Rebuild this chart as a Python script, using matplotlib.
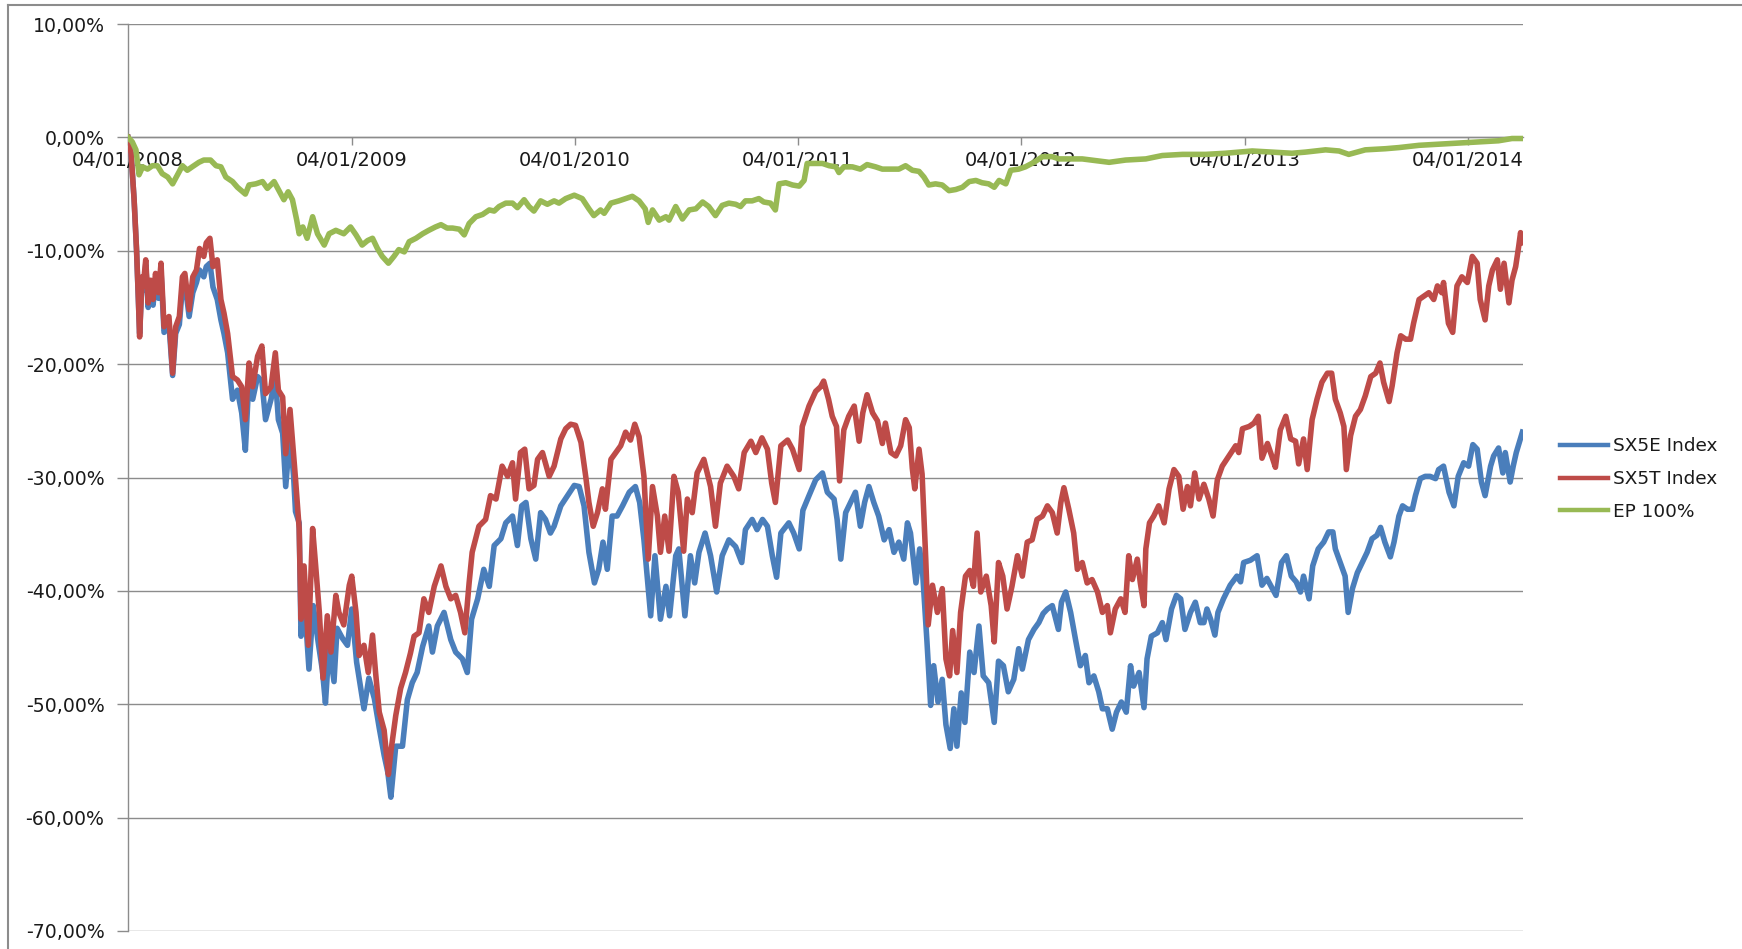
import pandas as pd
import matplotlib
matplotlib.use("Agg")
import matplotlib.pyplot as plt
import matplotlib.dates as mdates
from matplotlib.lines import Line2D
from matplotlib.ticker import FuncFormatter, MultipleLocator


# Performance since 04/01/2008, in %. Time is given as days after the start date.
START = pd.Timestamp("2008-01-04")
END_DAY = 2282

sx5e_days = [
    0, 5, 10, 14, 17, 19, 23, 25, 29, 33, 37, 41, 45, 50, 54, 59, 67, 73, 78, 84,
    89, 93, 100, 106, 112, 117, 124, 128, 134, 139, 146, 152, 157, 163, 171, 179, 186, 192, 198, 204,
    212, 219, 225, 234, 241, 246, 253, 258, 265, 271, 274, 280, 283, 288, 296, 303, 311, 318, 323, 329,
    337, 342, 351, 359, 366, 374, 386, 394, 403, 411, 419, 425, 430, 438, 449, 457, 465, 473, 482, 492,
    498, 506, 517, 528, 536, 547, 555, 562, 572, 582, 591, 599, 610, 618, 629, 637, 644, 651, 659, 667,
    675, 683, 691, 697, 708, 719, 730, 738, 746, 754, 763, 770, 777, 784, 792, 800, 809, 820, 830, 837,
    844, 855, 862, 871, 880, 886, 896, 901, 911, 920, 927, 934, 944, 953, 963, 972, 983, 994, 1004, 1010,
    1021, 1029, 1038, 1046, 1054, 1061, 1068, 1081, 1089, 1098, 1104, 1114, 1125, 1136, 1144, 1155, 1160, 1166, 1174, 1182,
    1190, 1198, 1205, 1212, 1220, 1228, 1237, 1245, 1253, 1261, 1269, 1275, 1280, 1286, 1289, 1295, 1300, 1307, 1313, 1318,
    1325, 1332, 1338, 1345, 1351, 1356, 1363, 1369, 1377, 1384, 1392, 1399, 1408, 1417, 1424, 1432, 1440, 1449, 1457, 1463,
    1473, 1482, 1490, 1497, 1504, 1512, 1522, 1527, 1534, 1542, 1550, 1558, 1566, 1572, 1580, 1588, 1594, 1602, 1610, 1617,
    1625, 1633, 1640, 1645, 1654, 1662, 1667, 1674, 1684, 1692, 1698, 1707, 1715, 1722, 1729, 1738, 1746, 1754, 1760, 1765,
    1771, 1778, 1783, 1792, 1803, 1814, 1820, 1825, 1836, 1847, 1855, 1863, 1872, 1878, 1887, 1895, 1903, 1911, 1918, 1923,
    1932, 1938, 1947, 1956, 1964, 1971, 1975, 1983, 1991, 1996, 2003, 2011, 2019, 2027, 2035, 2043, 2049, 2056, 2065, 2071,
    2079, 2085, 2093, 2101, 2106, 2114, 2122, 2130, 2139, 2144, 2152, 2161, 2169, 2176, 2185, 2193, 2200, 2207, 2214, 2220,
    2229, 2234, 2242, 2249, 2253, 2261, 2266, 2271, 2281,
]
sx5e_pct = [
    0, -1.4, -5.5, -10.0, -14.5, -17.3, -12.5, -13.5, -11.2, -15.0, -13.0, -14.8, -12.5, -14.2, -11.8, -17.2, -16.5, -21.0, -17.3, -16.5,
    -13.2, -12.8, -15.8, -13.7, -12.8, -11.7, -12.3, -11.4, -11.1, -13.2, -14.3, -16.1, -17.3, -19.0, -23.1, -22.3, -24.3, -27.6, -21.1, -23.1,
    -21.1, -21.5, -24.9, -23.1, -21.1, -24.9, -26.1, -30.8, -26.1, -30.0, -33.0, -34.0, -44.0, -40.4, -46.9, -41.3, -44.5, -47.0, -49.9, -44.8,
    -48.0, -43.3, -44.2, -44.8, -41.6, -46.3, -50.4, -47.7, -49.5, -52.1, -54.5, -56.0, -58.2, -53.7, -53.7, -49.6, -48.1, -47.2, -44.9, -43.1,
    -45.4, -43.1, -41.9, -44.3, -45.4, -46.0, -47.2, -42.5, -40.7, -38.1, -39.6, -36.0, -35.4, -34.0, -33.4, -36.0, -32.5, -32.2, -35.4, -37.2,
    -33.1, -33.7, -34.9, -34.3, -32.5, -31.6, -30.7, -30.8, -32.5, -36.6, -39.3, -38.1, -35.7, -38.1, -33.4, -33.4, -32.5, -31.3, -30.8, -32.2,
    -35.5, -42.2, -36.9, -42.5, -39.6, -42.2, -36.9, -36.3, -42.2, -36.9, -39.3, -36.6, -34.9, -36.9, -40.1, -36.9, -35.5, -36.1, -37.5, -34.6,
    -33.7, -34.6, -33.7, -34.3, -36.9, -38.8, -34.9, -34.0, -34.9, -36.3, -32.9, -31.6, -30.2, -29.6, -31.3, -31.9, -33.7, -37.2, -33.1, -32.2,
    -31.3, -34.3, -32.2, -30.8, -32.2, -33.4, -35.5, -34.6, -36.6, -35.7, -37.2, -34.0, -34.9, -37.8, -39.3, -36.3, -38.5, -44.5, -50.1, -46.6,
    -49.8, -47.8, -51.8, -53.9, -50.4, -53.7, -49.0, -51.6, -45.4, -47.2, -43.1, -47.5, -48.1, -51.6, -46.2, -46.6, -48.9, -47.8, -45.1, -46.9,
    -44.3, -43.4, -42.8, -42.0, -41.6, -41.3, -43.4, -41.0, -40.1, -41.9, -44.3, -46.6, -45.7, -48.1, -47.5, -48.9, -50.4, -50.4, -52.2, -50.7,
    -49.8, -50.7, -46.6, -48.4, -47.2, -50.3, -46.0, -44.0, -43.7, -42.8, -44.3, -41.6, -40.4, -40.7, -43.4, -41.9, -41.0, -42.8, -42.8, -41.6,
    -42.5, -43.9, -41.9, -40.7, -39.5, -38.7, -39.2, -37.5, -37.3, -36.9, -39.5, -38.9, -39.8, -40.4, -37.5, -36.9, -38.7, -39.2, -40.1, -38.7,
    -40.7, -37.8, -36.3, -35.7, -34.8, -34.8, -36.3, -37.5, -38.7, -41.9, -39.8, -38.4, -37.5, -36.6, -35.4, -35.1, -34.4, -35.7, -37.0, -35.7,
    -33.4, -32.5, -32.8, -32.8, -31.6, -30.1, -29.9, -29.9, -30.1, -29.3, -29.0, -31.3, -32.5, -29.9, -28.7, -29.0, -27.1, -27.5, -30.4, -31.6,
    -29.0, -28.1, -27.4, -29.6, -27.8, -30.4, -29.0, -27.8, -26.0,
]

sx5t_days = [
    0, 5, 10, 14, 17, 19, 23, 25, 29, 33, 37, 41, 45, 50, 54, 59, 67, 73, 78, 84,
    89, 93, 100, 106, 112, 117, 124, 128, 134, 139, 146, 152, 157, 163, 171, 179, 186, 192, 198, 204,
    212, 219, 225, 234, 241, 246, 253, 258, 265, 271, 274, 280, 283, 288, 295, 302, 307, 313, 319, 326,
    332, 340, 345, 353, 362, 366, 373, 378, 386, 393, 400, 405, 411, 419, 426, 430, 438, 446, 454, 462,
    468, 476, 484, 492, 501, 512, 520, 528, 536, 544, 551, 558, 563, 574, 585, 593, 602, 612, 621, 629,
    634, 642, 649, 656, 664, 670, 678, 689, 697, 708, 716, 724, 732, 741, 749, 754, 761, 768, 776, 781,
    790, 798, 806, 814, 822, 829, 836, 844, 851, 858, 866, 871, 878, 885, 893, 900, 909, 915, 923, 931,
    942, 953, 961, 969, 980, 991, 999, 1008, 1019, 1027, 1037, 1046, 1053, 1059, 1068, 1079, 1087, 1098, 1103, 1114,
    1125, 1133, 1138, 1146, 1152, 1159, 1164, 1171, 1179, 1188, 1196, 1202, 1209, 1218, 1226, 1234, 1239, 1248, 1256, 1264,
    1272, 1278, 1283, 1287, 1294, 1299, 1305, 1309, 1316, 1324, 1332, 1338, 1344, 1349, 1356, 1362, 1370, 1377, 1383, 1389,
    1395, 1404, 1412, 1417, 1424, 1431, 1438, 1446, 1455, 1463, 1471, 1479, 1487, 1496, 1504, 1512, 1520, 1526, 1531, 1539,
    1547, 1553, 1561, 1569, 1577, 1586, 1594, 1602, 1607, 1615, 1624, 1631, 1637, 1643, 1651, 1656, 1662, 1665, 1671, 1678,
    1686, 1695, 1703, 1711, 1719, 1726, 1733, 1738, 1745, 1752, 1760, 1768, 1775, 1782, 1790, 1801, 1812, 1817, 1823, 1834,
    1842, 1849, 1855, 1864, 1871, 1877, 1885, 1894, 1902, 1910, 1915, 1923, 1929, 1937, 1945, 1953, 1962, 1969, 1975, 1983,
    1989, 1993, 2000, 2008, 2016, 2024, 2033, 2041, 2048, 2054, 2063, 2068, 2076, 2082, 2090, 2098, 2103, 2112, 2120, 2128,
    2136, 2142, 2149, 2152, 2160, 2167, 2174, 2182, 2191, 2199, 2207, 2212, 2220, 2226, 2232, 2240, 2245, 2251, 2259, 2264,
    2270, 2275, 2278, 2281,
]
sx5t_pct = [
    0, -1.4, -5.5, -9.9, -14.3, -17.6, -12.3, -13.1, -10.8, -14.6, -12.6, -14.3, -12.0, -13.7, -11.1, -16.7, -15.8, -20.8, -16.7, -15.8,
    -12.3, -12.0, -15.2, -12.3, -11.7, -9.8, -10.5, -9.3, -8.9, -11.4, -10.8, -14.3, -15.5, -17.3, -21.1, -21.4, -22.0, -24.9, -19.9, -22.0,
    -19.3, -18.4, -22.6, -22.0, -19.0, -22.3, -22.9, -27.9, -24.0, -28.0, -30.1, -34.5, -42.5, -37.8, -44.8, -34.5, -37.8, -41.9, -47.7, -42.2,
    -45.4, -40.4, -41.9, -43.0, -39.5, -38.7, -41.9, -45.7, -44.8, -47.2, -43.9, -47.2, -50.7, -52.3, -56.2, -54.2, -51.0, -48.6, -47.2, -45.5,
    -44.0, -43.7, -40.7, -41.9, -39.6, -37.8, -39.6, -40.7, -40.4, -41.9, -43.7, -39.3, -36.6, -34.3, -33.7, -31.6, -31.9, -29.0, -29.9, -28.7,
    -31.9, -27.8, -27.5, -31.0, -30.7, -28.4, -27.8, -29.9, -29.0, -26.6, -25.7, -25.3, -25.4, -26.9, -30.0, -32.2, -34.3, -33.1, -31.0, -32.8,
    -28.4, -27.8, -27.2, -26.0, -26.7, -25.3, -26.4, -29.9, -37.2, -30.8, -33.4, -36.6, -33.4, -36.5, -29.9, -31.3, -36.5, -31.9, -33.1, -29.6,
    -28.4, -30.8, -34.3, -30.5, -29.0, -29.9, -31.0, -27.8, -26.8, -27.8, -26.5, -27.5, -30.5, -32.2, -27.2, -26.7, -27.5, -29.3, -25.5, -23.7,
    -22.4, -22.0, -21.5, -23.1, -24.6, -25.5, -30.3, -25.8, -24.6, -23.7, -26.8, -24.3, -22.7, -24.3, -25.0, -27.0, -25.2, -27.8, -28.1, -27.2,
    -24.9, -25.6, -29.2, -31.0, -27.5, -29.7, -37.2, -43.0, -39.5, -41.9, -39.8, -46.0, -47.5, -43.5, -47.2, -41.9, -38.7, -38.2, -39.6, -34.9,
    -40.1, -38.7, -41.3, -44.5, -37.5, -38.7, -41.6, -39.6, -36.9, -38.7, -35.7, -35.5, -33.7, -33.4, -32.5, -33.1, -34.9, -32.2, -30.9, -32.8,
    -34.9, -38.1, -37.5, -39.3, -39.0, -40.1, -41.9, -41.3, -43.7, -41.6, -40.7, -41.9, -36.9, -39.0, -37.2, -39.3, -41.3, -36.3, -34.0, -33.4,
    -32.5, -34.0, -31.0, -29.3, -29.9, -32.8, -30.8, -32.5, -29.6, -31.9, -30.6, -31.9, -33.4, -30.2, -29.0, -28.1, -27.2, -27.8, -25.7, -25.5,
    -25.2, -24.6, -28.3, -27.0, -28.1, -29.1, -25.8, -24.6, -26.6, -26.8, -28.8, -26.6, -29.3, -24.9, -23.1, -21.6, -20.8, -20.8, -23.1, -24.3,
    -25.5, -29.3, -26.3, -24.6, -24.0, -22.8, -21.1, -20.8, -19.9, -21.6, -23.3, -21.9, -19.0, -17.5, -17.8, -17.8, -16.4, -14.3, -14.0, -13.7,
    -14.3, -13.1, -13.7, -12.8, -16.4, -17.2, -13.1, -12.3, -12.8, -10.5, -11.1, -14.3, -16.1, -13.1, -11.7, -10.8, -13.4, -11.1, -14.6, -12.6,
    -11.4, -9.6, -8.4, -9.3,
]

ep_days = [
    0, 7, 13, 18, 24, 32, 40, 48, 56, 65, 73, 81, 89, 97, 105, 116, 124, 135, 144, 152,
    160, 171, 179, 192, 198, 209, 220, 228, 239, 247, 255, 262, 269, 276, 280, 286, 293, 302, 310, 321,
    329, 340, 353, 364, 373, 383, 392, 400, 408, 416, 426, 435, 443, 452, 460, 471, 482, 492, 503, 512,
    522, 531, 542, 550, 558, 569, 580, 591, 599, 607, 618, 629, 637, 648, 656, 664, 675, 686, 697, 705,
    716, 730, 743, 754, 762, 773, 779, 790, 803, 814, 825, 836, 846, 851, 858, 869, 880, 885, 896, 907,
    918, 929, 940, 950, 961, 972, 983, 994, 1002, 1010, 1021, 1032, 1040, 1051, 1059, 1065, 1076, 1087, 1098, 1106,
    1111, 1122, 1136, 1147, 1158, 1163, 1171, 1185, 1198, 1209, 1223, 1234, 1250, 1261, 1272, 1283, 1294, 1302, 1310, 1321,
    1332, 1343, 1354, 1365, 1376, 1387, 1397, 1408, 1417, 1425, 1436, 1444, 1457, 1468, 1482, 1496, 1512, 1523, 1561, 1605,
    1632, 1665, 1692, 1725, 1763, 1795, 1839, 1872, 1904, 1926, 1959, 1981, 1997, 2024, 2057, 2079, 2112, 2144, 2177, 2210,
    2242, 2264, 2281,
]
ep_pct = [
    0, -0.4, -1.1, -3.3, -2.6, -2.8, -2.5, -2.5, -3.2, -3.5, -4.1, -3.3, -2.5, -2.9, -2.6, -2.2, -2.0, -2.0, -2.5, -2.6,
    -3.5, -3.9, -4.4, -5.0, -4.2, -4.1, -3.9, -4.5, -3.9, -4.7, -5.5, -4.8, -5.5, -7.3, -8.5, -7.9, -8.9, -7.0, -8.5, -9.5,
    -8.5, -8.2, -8.5, -7.9, -8.6, -9.5, -9.1, -8.9, -9.8, -10.5, -11.1, -10.5, -9.9, -10.1, -9.2, -8.9, -8.5, -8.2, -7.9, -7.7,
    -8.0, -8.0, -8.1, -8.6, -7.6, -7.0, -6.8, -6.4, -6.5, -6.1, -5.8, -5.8, -6.2, -5.5, -6.1, -6.5, -5.6, -5.9, -5.6, -5.8,
    -5.4, -5.1, -5.4, -6.3, -6.9, -6.4, -6.7, -5.8, -5.6, -5.4, -5.2, -5.6, -6.3, -7.5, -6.4, -7.3, -7.0, -7.3, -6.1, -7.2,
    -6.4, -6.3, -5.7, -6.1, -6.9, -6.0, -5.8, -5.9, -6.1, -5.6, -5.6, -5.4, -5.7, -5.8, -6.4, -4.1, -4.0, -4.2, -4.3, -3.8,
    -2.3, -2.3, -2.3, -2.5, -2.6, -3.1, -2.6, -2.6, -2.8, -2.4, -2.6, -2.8, -2.8, -2.8, -2.5, -2.9, -3.0, -3.5, -4.2, -4.1,
    -4.2, -4.7, -4.6, -4.4, -3.9, -3.8, -4.0, -4.1, -4.4, -3.8, -4.1, -2.9, -2.8, -2.6, -2.2, -1.7, -1.7, -1.9, -1.9, -2.2,
    -2.0, -1.9, -1.6, -1.5, -1.5, -1.4, -1.2, -1.3, -1.4, -1.3, -1.1, -1.2, -1.5, -1.1, -1.0, -0.9, -0.7, -0.6, -0.5, -0.4,
    -0.3, -0.1, -0.1,
]

series_labels = ["SX5E Index", "SX5T Index", "EP 100%"]
tick_years = [2008, 2009, 2010, 2011, 2012, 2013, 2014]

BLUE = "#4a7ebb"
RED = "#be4b48"
GREEN = "#98b954"
GRID = "#8c8c8c"
TEXT = "#1a1a1a"


def to_num(days):
    return mdates.date2num((START + pd.to_timedelta(days, unit="D")).to_pydatetime())


W, H = 1742, 949
fig = plt.figure(figsize=(W / 100, H / 100), dpi=100)
ax = fig.add_axes([128 / W, 1 - 931 / H, (1523 - 128) / W, (931 - 24) / H])

lw = 4.0
ax.plot(to_num(sx5e_days), sx5e_pct, color=BLUE, lw=lw, solid_joinstyle="round", label=series_labels[0])
ax.plot(to_num(sx5t_days), sx5t_pct, color=RED, lw=lw, solid_joinstyle="round", label=series_labels[1])
ax.plot(to_num(ep_days), ep_pct, color=GREEN, lw=lw, solid_joinstyle="round", label=series_labels[2])

ax.set_xlim(to_num([0])[0], to_num([END_DAY])[0])
ax.set_ylim(-70, 10)

# y axis: Excel style percentages with a decimal comma
ax.yaxis.set_major_locator(MultipleLocator(10))
ax.yaxis.set_major_formatter(FuncFormatter(lambda v, _: f"{v:.2f}%".replace(".", ",")))
ax.yaxis.grid(True, color=GRID, lw=1.0)
ax.tick_params(axis="y", direction="out", length=8, width=1, color=GRID, pad=9,
               labelsize=13.6, labelcolor=TEXT)

# x axis sits on the 0 % line
ticks = [pd.Timestamp(f"{y}-01-04") for y in tick_years]
ax.set_xticks(mdates.date2num([t.to_pydatetime() for t in ticks]))
ax.set_xticklabels([t.strftime("%d/%m/%Y") for t in ticks])
ax.tick_params(axis="x", direction="out", length=6, width=1, color=GRID, pad=4,
               labelsize=14, labelcolor=TEXT)

ax.spines["bottom"].set_position(("data", 0))
for side in ("top", "right"):
    ax.spines[side].set_visible(False)
for side in ("bottom", "left"):
    ax.spines[side].set_color(GRID)
    ax.spines[side].set_linewidth(1.0)
    ax.spines[side].set_zorder(1)

leg = fig.legend(loc="center left", bbox_to_anchor=(1543 / W, 1 - 479 / H), frameon=False,
                 fontsize=13.3, handlelength=2.6, handletextpad=0.3, labelspacing=0.8)
for txt in leg.get_texts():
    txt.set_color(TEXT)
for h in leg.legend_handles:
    h.set_linewidth(3.2)

# chart area border (left and top edges are visible in the picture)
fig.add_artist(Line2D([8 / W, 8 / W], [0, 1 - 5 / H], color="#8c8c8c", lw=1.5))
fig.add_artist(Line2D([8 / W, 1], [1 - 5 / H, 1 - 5 / H], color="#8c8c8c", lw=1.5))

fig.savefig("out.png", dpi=100, facecolor="white")
